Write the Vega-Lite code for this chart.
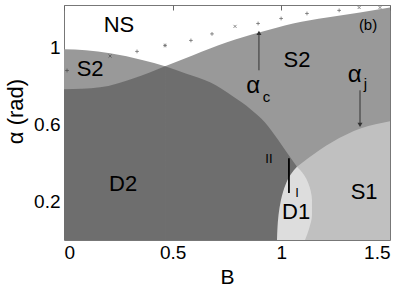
{
  "$schema": "https://vega.github.io/schema/vega-lite/v6.json",
  "width": 326,
  "height": 235,
  "autosize": {"type": "none"},
  "padding": {"left": 64, "top": 5, "right": 19, "bottom": 48},
  "background": "white",
  "config": {
    "view": {"stroke": "#777777", "strokeWidth": 1},
    "font": "Liberation Sans",
    "axis": {"grid": false, "domain": false, "ticks": false, "labelFont": "Liberation Sans", "titleFont": "Liberation Sans", "labelColor": "#000000", "titleColor": "#000000", "titleFontWeight": "normal"}
  },
  "datasets": {
    "c1": [{"B":0,"a":0.99},{"B":0.1,"a":0.985},{"B":0.212,"a":0.969},{"B":0.364,"a":0.933},{"B":0.465,"a":0.902},{"B":0.56,"a":0.865},{"B":0.672,"a":0.819},{"B":0.778,"a":0.745},{"B":0.86,"a":0.678},{"B":0.925,"a":0.61},{"B":0.985,"a":0.52},{"B":1.031,"a":0.445},{"B":1.072,"a":0.38}],
    "c2": [{"B":0,"a":0.782},{"B":0.166,"a":0.793},{"B":0.318,"a":0.839},{"B":0.465,"a":0.902},{"B":0.594,"a":0.959},{"B":0.75,"a":1.026},{"B":0.902,"a":1.078},{"B":1.054,"a":1.124},{"B":1.21,"a":1.155},{"B":1.362,"a":1.181},{"B":1.5,"a":1.207}],
    "aj": [{"B":1.072,"a":0.38},{"B":1.123,"a":0.425},{"B":1.233,"a":0.508},{"B":1.367,"a":0.58},{"B":1.5,"a":0.617}],
    "d1": [{"a":0,"L":0.98,"R":1.109},{"a":0.06,"L":0.982,"R":1.128},{"a":0.13,"L":0.987,"R":1.141},{"a":0.207,"L":0.998,"R":1.141},{"a":0.25,"L":1.008,"R":1.136},{"a":0.295,"L":1.022,"R":1.124},{"a":0.34,"L":1.043,"R":1.103},{"a":0.38,"L":1.072,"R":1.072}],
    "pts": [{"B":0.014,"a":0.88,"m":"+"},{"B":0.212,"a":0.955,"m":"x"},{"B":0.336,"a":0.979,"m":"+"},{"B":0.465,"a":1.01,"m":"*"},{"B":0.584,"a":1.036,"m":"+"},{"B":0.681,"a":1.07,"m":"+"},{"B":0.787,"a":1.109,"m":"x"},{"B":0.893,"a":1.124,"m":"+"},{"B":0.999,"a":1.15,"m":"+"},{"B":1.118,"a":1.176,"m":"+"},{"B":1.266,"a":1.192,"m":"+"},{"B":1.358,"a":1.207,"m":"x"},{"B":1.454,"a":1.207,"m":"x"}],
    "shafts": [{"B":0.897,"a1":0.881,"a2":1.075},{"B":1.362,"a1":0.777,"a2":0.598}],
    "heads": [{"B":0.897,"a":1.075,"d":"up"},{"B":1.362,"a":0.598,"d":"down"}],
    "bar": [{"B":1.035,"a1":0.425,"a2":0.244}],
    "big": [{"t":"NS","B":0.253,"a":1.114},{"t":"S2","B":0.12,"a":0.886},{"t":"S2","B":1.072,"a":0.933},{"t":"D2","B":0.272,"a":0.29},{"t":"D1","B":1.068,"a":0.145},{"t":"S1","B":1.381,"a":0.249}],
    "panel": [{"t":"(b)","B":1.399,"a":1.114}],
    "tiny": [{"t":"II","B":0.943,"a":0.42},{"t":"I","B":1.072,"a":0.244}],
    "greek": [{"t":"α","B":0.87,"a":0.762},{"t":"α","B":1.337,"a":0.819}],
    "subs": [{"t":"c","B":0.932,"a":0.715},{"t":"j","B":1.387,"a":0.782}]
  },
  "resolve": {"axis": {"x": "independent"}, "scale": {"shape": "independent"}},
  "layer": [
    {
      "data": {"name": "c1"},
      "mark": {"type": "area", "color": "#999999", "interpolate": "monotone", "clip": true},
      "encoding": {
        "x": {"field": "B", "type": "quantitative", "scale": {"domain": [0, 1.5], "nice": false, "zero": false},
              "axis": {"orient": "bottom", "values": [0, 0.5, 1, 1.5], "format": "~g", "labelFontSize": 19, "labelPadding": 3, "title": "B", "titleFontSize": 21, "titleBaseline": "alphabetic", "titleY": 43}},
        "y": {"field": "a", "type": "quantitative", "scale": {"domain": [0, 1.22], "nice": false, "zero": false},
              "axis": {"values": [0.2, 0.6, 1], "format": "~g", "labelFontSize": 19, "labelPadding": 4, "title": "α (rad)", "titleFontSize": 22, "titlePadding": 6, "titleY": 106}},
        "y2": {"datum": 0}
      }
    },
    {
      "data": {"name": "c2"},
      "mark": {"type": "area", "color": "#999999", "interpolate": "monotone", "clip": true},
      "encoding": {
        "x": {"field": "B", "type": "quantitative", "axis": null},
        "y": {"field": "a", "type": "quantitative"},
        "y2": {"datum": 0}
      }
    },
    {
      "data": {"name": "c2"},
      "transform": [{"filter": "datum.B <= 0.465"}],
      "mark": {"type": "area", "color": "#6e6e6e", "interpolate": "monotone", "clip": true},
      "encoding": {
        "x": {"field": "B", "type": "quantitative", "axis": null},
        "y": {"field": "a", "type": "quantitative"},
        "y2": {"datum": 0}
      }
    },
    {
      "data": {"name": "c1"},
      "transform": [{"filter": "datum.B >= 0.465"}],
      "mark": {"type": "area", "color": "#6e6e6e", "interpolate": "monotone", "clip": true},
      "encoding": {
        "x": {"field": "B", "type": "quantitative", "axis": null},
        "y": {"field": "a", "type": "quantitative"},
        "y2": {"datum": 0}
      }
    },
    {
      "data": {"name": "aj"},
      "mark": {"type": "area", "color": "#c0c0c0", "interpolate": "monotone", "clip": true},
      "encoding": {
        "x": {"field": "B", "type": "quantitative", "axis": null},
        "y": {"field": "a", "type": "quantitative"},
        "y2": {"datum": 0}
      }
    },
    {
      "data": {"name": "d1"},
      "mark": {"type": "area", "orient": "horizontal", "color": "#dddddd", "interpolate": "monotone", "clip": true},
      "encoding": {
        "y": {"field": "a", "type": "quantitative"},
        "x": {"field": "L", "type": "quantitative", "axis": null},
        "x2": {"field": "R"}
      }
    },
    {
      "data": {"name": "pts"},
      "mark": {"type": "point", "filled": false, "color": "#333333", "strokeWidth": 0.8, "size": 14},
      "encoding": {
        "x": {"field": "B", "type": "quantitative",
              "axis": {"orient": "top", "labels": false, "ticks": true, "tickSize": -5, "tickColor": "#666666", "domain": false, "title": null, "values": [0, 0.5, 1, 1.5]}},
        "y": {"field": "a", "type": "quantitative"},
        "shape": {"field": "m", "type": "nominal", "legend": null,
                  "scale": {"domain": ["+", "x", "*"], "range": ["M-1,0H1M0,-1V1", "M-0.8,-0.8L0.8,0.8M-0.8,0.8L0.8,-0.8", "M-1,0H1M0,-1V1M-0.7,-0.7L0.7,0.7M-0.7,0.7L0.7,-0.7"]}}
      }
    },
    {
      "data": {"name": "shafts"},
      "mark": {"type": "rule", "color": "#333333", "strokeWidth": 1},
      "encoding": {
        "x": {"field": "B", "type": "quantitative", "axis": null},
        "y": {"field": "a1", "type": "quantitative"},
        "y2": {"field": "a2"}
      }
    },
    {
      "data": {"name": "heads"},
      "mark": {"type": "point", "filled": true, "color": "#333333", "size": 25, "opacity": 1},
      "encoding": {
        "x": {"field": "B", "type": "quantitative", "axis": null},
        "y": {"field": "a", "type": "quantitative"},
        "shape": {"field": "d", "type": "nominal", "legend": null, "scale": {"domain": ["up", "down"], "range": ["triangle-up", "triangle-down"]}}
      }
    },
    {
      "data": {"name": "bar"},
      "mark": {"type": "rule", "color": "#000000", "strokeWidth": 1.8},
      "encoding": {
        "x": {"field": "B", "type": "quantitative", "axis": null},
        "y": {"field": "a1", "type": "quantitative"},
        "y2": {"field": "a2"}
      }
    },
    {
      "data": {"name": "big"},
      "mark": {"type": "text", "fontSize": 22, "color": "#000000", "align": "center", "baseline": "middle"},
      "encoding": {
        "x": {"field": "B", "type": "quantitative", "axis": null},
        "y": {"field": "a", "type": "quantitative"},
        "text": {"field": "t"}
      }
    },
    {
      "data": {"name": "panel"},
      "mark": {"type": "text", "fontSize": 15, "color": "#000000", "align": "center", "baseline": "middle"},
      "encoding": {
        "x": {"field": "B", "type": "quantitative", "axis": null},
        "y": {"field": "a", "type": "quantitative"},
        "text": {"field": "t"}
      }
    },
    {
      "data": {"name": "tiny"},
      "mark": {"type": "text", "fontSize": 13, "color": "#000000", "align": "center", "baseline": "middle"},
      "encoding": {
        "x": {"field": "B", "type": "quantitative", "axis": null},
        "y": {"field": "a", "type": "quantitative"},
        "text": {"field": "t"}
      }
    },
    {
      "data": {"name": "greek"},
      "mark": {"type": "text", "fontSize": 24, "color": "#000000", "align": "center", "baseline": "alphabetic"},
      "encoding": {
        "x": {"field": "B", "type": "quantitative", "axis": null},
        "y": {"field": "a", "type": "quantitative"},
        "text": {"field": "t"}
      }
    },
    {
      "data": {"name": "subs"},
      "mark": {"type": "text", "fontSize": 15, "color": "#000000", "align": "center", "baseline": "alphabetic"},
      "encoding": {
        "x": {"field": "B", "type": "quantitative", "axis": null},
        "y": {"field": "a", "type": "quantitative"},
        "text": {"field": "t"}
      }
    }
  ]
}
